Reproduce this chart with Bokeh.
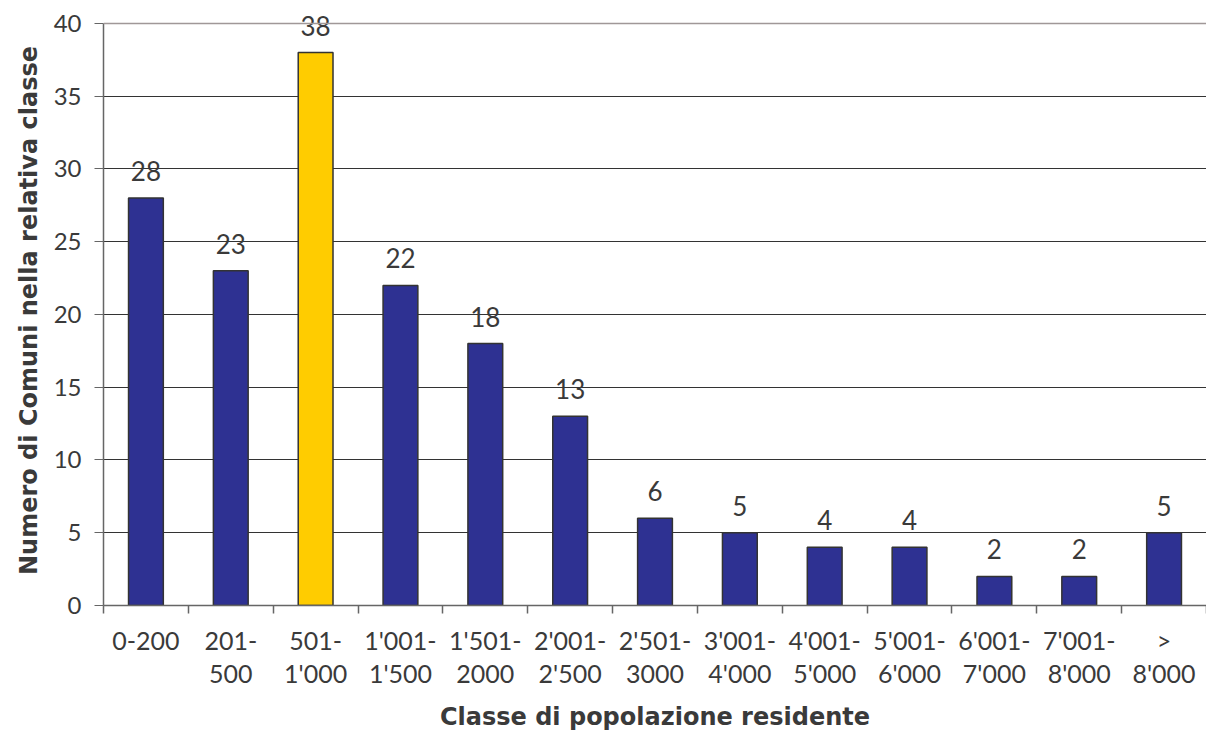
from bokeh.plotting import figure
from bokeh.models import Range1d, FixedTicker, LinearAxis, ColumnDataSource, Span
from bokeh.core.properties import value
from bokeh.embed import file_html
from bokeh.resources import INLINE

categories_line1 = ["0-200", "201-", "501-", "1'001-", "1'501-", "2'001-", "2'501-",
                    "3'001-", "4'001-", "5'001-", "6'001-", "7'001-", ">"]
categories_line2 = ["", "500", "1'000", "1'500", "2000", "2'500", "3000",
                    "4'000", "5'000", "6'000", "7'000", "8'000", "8'000"]
counts = [28, 23, 38, 22, 18, 13, 6, 5, 4, 4, 2, 2, 5]
highlight = "501-1'000"
y_ticks = [0, 5, 10, 15, 20, 25, 30, 35, 40]

FONT = "Lato"
TITLE_FONT = "DejaVu Sans"
TXT = "#3a3a3a"
NAVY = "#2E3192"
YELLOW = "#FFCC00"

n = len(counts)
xs = [i + 0.5 for i in range(n)]
names = [(a + b) for a, b in zip(categories_line1, categories_line2)]
colors = [YELLOW if nm == highlight else NAVY for nm in names]

src = ColumnDataSource(dict(x=xs, top=counts, color=colors, label=[str(c) for c in counts]))

# frame: 591 px tall, value 40 sits 583 px above the baseline
y_max = y_ticks[-1]
y_end = y_max * 591 / 583

p = figure(width=1206, height=733, output_backend="svg", toolbar_location=None,
           x_range=Range1d(0, n), y_range=Range1d(0, y_end),
           min_border_left=103, min_border_right=0, min_border_top=15, min_border_bottom=127)
p.outline_line_color = None
p.background_fill_color = "white"
p.border_fill_color = "white"

# grid
p.xgrid.grid_line_color = None
p.ygrid.grid_line_color = "#333333"
p.ygrid.grid_line_width = 1
p.ygrid.ticker = FixedTicker(ticks=y_ticks[:-1])
p.add_layout(Span(location=y_max, dimension="width", line_color="#a09898", line_width=1.5))

p.vbar(x="x", top="top", width=0.41, bottom=0, fill_color="color",
       line_color="#333333", line_width=1.5, source=src)
p.text(x="x", y="top", text="label", source=src, text_align="center",
       text_baseline="alphabetic", y_offset=-27, text_font=value(FONT),
       text_font_size="26px", text_color=TXT)

# y axis
ya = p.yaxis[0]
ya.ticker = FixedTicker(ticks=y_ticks)
ya.bounds = (0, y_max)
ya.axis_line_color = "#666666"
ya.axis_line_width = 1.5
ya.major_tick_line_color = "#666666"
ya.major_tick_in = 0
ya.major_tick_out = 9
ya.minor_tick_line_color = None
ya.major_label_standoff = 13
ya.major_label_text_font = FONT
ya.major_label_text_font_size = "24px"
ya.major_label_text_color = TXT
ya.axis_label = "Numero di Comuni nella relativa classe"
ya.axis_label_text_font = TITLE_FONT
ya.axis_label_text_font_style = "bold"
ya.axis_label_text_font_size = "24px"
ya.axis_label_text_color = TXT
ya.axis_label_standoff = 8

# x axis (first line of labels, boundary ticks)
xa = p.xaxis[0]
xa.ticker = FixedTicker(ticks=xs, minor_ticks=list(range(n + 1)))
xa.major_label_overrides = {x: l for x, l in zip(xs, categories_line1)}
xa.axis_line_color = "#666666"
xa.axis_line_width = 1.5
xa.major_tick_line_color = None
xa.major_tick_in = 0
xa.major_tick_out = 0
xa.minor_tick_line_color = "#666666"
xa.minor_tick_line_width = 1.5
xa.minor_tick_in = 0
xa.minor_tick_out = 8
xa.major_label_standoff = 11
xa.major_label_text_font = FONT
xa.major_label_text_font_size = "25px"
xa.major_label_text_color = TXT

# second line of labels + axis title
xa2 = LinearAxis(ticker=FixedTicker(ticks=xs, minor_ticks=[]))
xa2.major_label_overrides = {x: (l if l else " ") for x, l in zip(xs, categories_line2)}
xa2.axis_line_color = None
xa2.major_tick_line_color = None
xa2.minor_tick_line_color = None
xa2.major_tick_in = 0
xa2.major_tick_out = 0
xa2.major_label_standoff = 0
xa2.major_label_text_font = FONT
xa2.major_label_text_font_size = "25px"
xa2.major_label_text_color = TXT
xa2.axis_label = "Classe di popolazione residente"
xa2.axis_label_text_font = TITLE_FONT
xa2.axis_label_text_font_style = "bold"
xa2.axis_label_text_font_size = "24px"
xa2.axis_label_text_color = TXT
xa2.axis_label_standoff = 12
p.add_layout(xa2, "below")

open("out.html", "w").write(file_html(p, INLINE))
